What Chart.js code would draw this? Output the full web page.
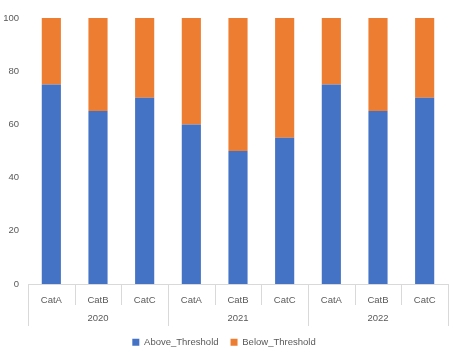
<!DOCTYPE html>
<html>
<head>
<meta charset="utf-8">
<script src="https://cdn.jsdelivr.net/npm/chart.js@4"></script>
<style>
  html, body { margin: 0; padding: 0; background: #fff; }
  #wrap { width: 474px; height: 353px; }
</style>
</head>
<body>
<div id="wrap"><canvas id="chart"></canvas></div>
<script>
// data
const years = ['2020', '2021', '2022'];
const cats = ['CatA', 'CatB', 'CatC', 'CatA', 'CatB', 'CatC', 'CatA', 'CatB', 'CatC'];
const aboveThreshold = [75, 65, 70, 60, 50, 55, 75, 65, 70];
const belowThreshold = [25, 35, 30, 40, 50, 45, 25, 35, 30];
const yTicks = [0, 20, 40, 60, 80, 100];

const FONT = 'Liberation Sans';
const TXT = '#595959';
const LINE = '#D9D9D9';

// draws the axis line, the group separators and the year row
const groupAxis = {
  id: 'groupAxis',
  afterDraw(chart) {
    const ctx = chart.ctx;
    const x = chart.scales.x;
    const area = chart.chartArea;
    const n = cats.length;
    const w = (x.right - x.left) / n;
    const perYear = n / years.length;
    ctx.save();
    ctx.strokeStyle = LINE;
    ctx.lineWidth = 1;
    ctx.beginPath();
    ctx.moveTo(x.left, Math.round(area.bottom) + 0.5);
    ctx.lineTo(x.right, Math.round(area.bottom) + 0.5);
    for (let k = 0; k <= n; k++) {
      const px = Math.round(x.left + k * w) + 0.5;
      const len = (k % perYear === 0) ? 42 : 21;
      ctx.moveTo(px, area.bottom);
      ctx.lineTo(px, area.bottom + len);
    }
    ctx.stroke();
    ctx.fillStyle = TXT;
    ctx.font = '9.5px "' + FONT + '"';
    ctx.textAlign = 'center';
    ctx.textBaseline = 'middle';
    years.forEach((yr, i) => {
      const cx = x.left + (i * perYear + perYear / 2) * w;
      ctx.fillText(yr, cx, area.bottom + 34);
    });
    ctx.restore();
  }
};

new Chart(document.getElementById('chart'), {
  type: 'bar',
  data: {
    labels: cats,
    datasets: [{
      label: 'Above_Threshold',
      data: aboveThreshold,
      backgroundColor: '#4472C4'
    }, {
      label: 'Below_Threshold',
      data: belowThreshold,
      backgroundColor: '#ED7D31'
    }]
  },
  options: {
    responsive: true,
    maintainAspectRatio: false,
    animation: false,
    layout: { padding: { top: 18, right: 26, left: 0, bottom: -4 } },
    datasets: { bar: { categoryPercentage: 1, barPercentage: 0.41 } },
    scales: {
      x: {
        stacked: true,
        grid: { display: false },
        border: { display: false },
        ticks: { color: TXT, font: { family: FONT, size: 9.5 }, padding: 3, maxRotation: 0 },
        afterFit(s) { s.height = 41.5; }
      },
      y: {
        stacked: true,
        min: 0,
        max: 100,
        grid: { display: false },
        border: { display: false },
        afterBuildTicks(s) { s.ticks = yTicks.map(v => ({ value: v })); },
        ticks: { color: TXT, font: { family: FONT, size: 9.5 }, padding: 1 },
        afterFit(s) { s.width = 28; }
      }
    },
    plugins: {
      legend: {
        position: 'bottom',
        labels: {
          color: TXT,
          font: { family: FONT, size: 9.5 },
          boxWidth: 7,
          boxHeight: 7,
          padding: 12
        }
      },
      tooltip: { enabled: false }
    }
  },
  plugins: [groupAxis]
});
</script>
</body>
</html>
